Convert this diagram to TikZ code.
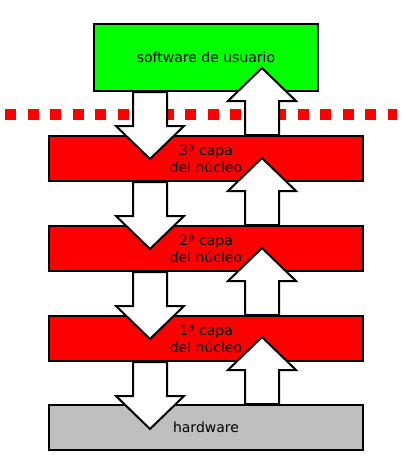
\documentclass[tikz,border=0pt]{standalone}
\usepackage{fontspec}
\setmainfont{DejaVu Sans}
\usetikzlibrary{calc}
\begin{document}
\begin{tikzpicture}[x=1pt,y=-1pt,
  box/.style={draw=black, line width=2pt, minimum width=314pt, minimum height=45pt,
    inner sep=0pt, align=center, font=\fontsize{14}{17}\selectfont},
  blockarrow/.style={draw=black, fill=white, line width=2pt, line join=miter},
  dnarr/.pic={\draw[blockarrow] (-17,0) -- (-17,34) -- (-34,34) -- (0,67) -- (34,34) -- (17,34) -- (17,0) -- cycle;},
  uparr/.pic={\draw[blockarrow] (-17,0) -- (-17,-34) -- (-34,-34) -- (0,-67) -- (34,-34) -- (17,-34) -- (17,0) -- cycle;},
  sepline/.style={draw=red, line width=11pt, dash pattern=on 11pt off 11.5pt}]
\useasboundingbox (0,0) rectangle (406,458);
% separator
\coordinate (l0) at (5,114);
\coordinate (l1) at (397,114);
\path[sepline] (l0) -- (l1);
% boxes
\node[box, fill={rgb,255:red,0;green,255;blue,0}, minimum width=224pt, minimum height=67pt] (sw) at (206,57.5) {software de usuario};
\node[box, fill=red] (k3) at (206,158.5) {3ª capa\\del núcleo};
\node[box, fill=red] (k2) at (206,248.5) {2ª capa\\del núcleo};
\node[box, fill=red] (k1) at (206,338.5) {1ª capa\\del núcleo};
\node[box, fill={rgb,255:red,191;green,191;blue,191}] (hw) at (206,427.5) {hardware};
% arrows down
\pic at ($(sw.south)+(-56,0)$) {dnarr};
\pic at ($(k3.south)+(-56,0)$) {dnarr};
\pic at ($(k2.south)+(-56,0)$) {dnarr};
\pic at ($(k1.south)+(-56,0)$) {dnarr};
% arrows up
\pic at ($(k3.north)+(56,0)$) {uparr};
\pic at ($(k2.north)+(56,0)$) {uparr};
\pic at ($(k1.north)+(56,0)$) {uparr};
\pic at ($(hw.north)+(56,0)$) {uparr};
\end{tikzpicture}
\end{document}
